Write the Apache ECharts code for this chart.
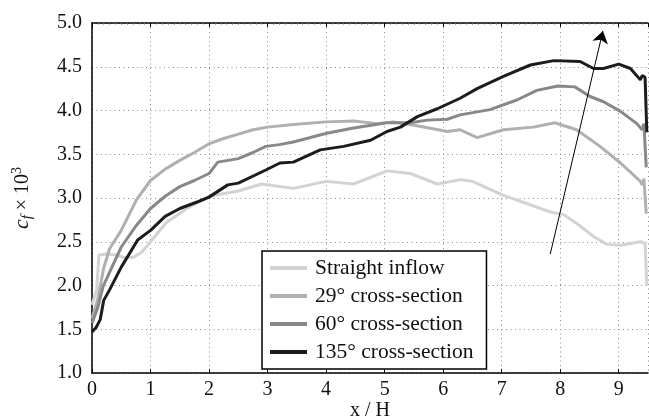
<!DOCTYPE html>
<html>
<head>
<meta charset="utf-8">
<script src="https://cdn.jsdelivr.net/npm/echarts@6/dist/echarts.min.js"></script>
<style>
  html, body { margin: 0; padding: 0; background: #fff; }
  #chart { width: 649px; height: 418px; }
</style>
</head>
<body>
<div id="chart"></div>
<script>
// x/H, cf*1e3 pairs
const straightInflow = [[0,1.78],[0.08,1.95],[0.12,2.35],[0.25,2.36],[0.4,2.35],[0.55,2.32],[0.7,2.32],[0.85,2.38],[1.0,2.5],[1.27,2.72],[1.62,2.88],[2.0,3.02],[2.5,3.08],[2.9,3.16],[3.44,3.11],[4.0,3.19],[4.47,3.16],[5.04,3.31],[5.44,3.28],[5.9,3.16],[6.3,3.21],[6.5,3.19],[7.03,3.03],[7.5,2.92],[7.83,2.84],[8.06,2.81],[8.3,2.7],[8.57,2.56],[8.8,2.47],[9.03,2.46],[9.37,2.5],[9.45,2.48],[9.48,2.0]];
const cross29 = [[0,1.62],[0.1,1.85],[0.2,2.2],[0.3,2.42],[0.5,2.63],[0.76,2.98],[1.0,3.2],[1.25,3.33],[1.5,3.43],[1.75,3.52],[2.0,3.62],[2.25,3.68],[2.5,3.73],[2.75,3.78],[3.0,3.81],[3.44,3.84],[4.0,3.87],[4.47,3.88],[4.87,3.85],[5.15,3.87],[5.6,3.82],[6.07,3.76],[6.29,3.78],[6.58,3.69],[7.03,3.78],[7.54,3.81],[7.91,3.86],[8.28,3.78],[8.68,3.59],[9.03,3.4],[9.37,3.19],[9.4,3.15],[9.43,3.22],[9.47,2.82]];
const cross60 = [[0,1.57],[0.1,1.75],[0.19,1.99],[0.3,2.15],[0.5,2.44],[0.75,2.68],[1.0,2.88],[1.25,3.02],[1.5,3.13],[1.75,3.2],[2.0,3.28],[2.15,3.41],[2.5,3.45],[2.75,3.52],[2.97,3.59],[3.2,3.61],[3.44,3.64],[4.01,3.74],[4.47,3.8],[5.04,3.86],[5.44,3.86],[5.73,3.89],[6.07,3.9],[6.29,3.95],[6.8,4.01],[7.26,4.12],[7.6,4.23],[7.96,4.28],[8.25,4.27],[8.51,4.16],[8.74,4.1],[9.03,3.99],[9.31,3.85],[9.4,3.78],[9.43,3.85],[9.47,3.35]];
const cross135 = [[0,1.47],[0.07,1.52],[0.14,1.61],[0.2,1.83],[0.3,1.95],[0.5,2.21],[0.78,2.52],[1.0,2.63],[1.25,2.79],[1.5,2.88],[1.82,2.96],[2.0,3.01],[2.32,3.15],[2.5,3.17],[2.97,3.32],[3.21,3.4],[3.44,3.41],[3.9,3.55],[4.3,3.59],[4.76,3.66],[5.04,3.76],[5.27,3.81],[5.56,3.93],[5.9,4.02],[6.29,4.14],[6.58,4.25],[7.03,4.39],[7.49,4.52],[7.89,4.57],[8.34,4.56],[8.57,4.48],[8.74,4.48],[9.0,4.53],[9.2,4.48],[9.37,4.35],[9.4,4.4],[9.45,4.38],[9.48,3.75]];

const seriesNames = ['Straight inflow', '29° cross-section', '60° cross-section', '135° cross-section'];
const seriesColors = ['#d3d3d3', '#b0b0b0', '#888888', '#1c1c1c'];

// arrow (annotation) from -> to
const arrowStart = [7.83, 2.36];
const arrowEnd = [8.73, 4.91];

const FONT = 'Liberation Serif';

const myChart = echarts.init(document.getElementById('chart'));

const lineSeries = [straightInflow, cross29, cross60, cross135].map((d, i) => ({
    name: seriesNames[i],
    type: 'line',
    data: d,
    showSymbol: false,
    symbol: 'none',
    color: seriesColors[i],
    lineStyle: {color: seriesColors[i], width: 3},
    z: 3 + i,
}));

const option = {
    animation: false,
    textStyle: {fontFamily: FONT},
    grid: {left: 92, right: 1, top: 23, bottom: 45, outerBoundsMode: 'none', containLabel: false},
    legend: {
        orient: 'vertical',
        left: 262,
        top: 251,
        data: seriesNames,
        icon: 'rect',
        itemWidth: 37,
        itemHeight: 4,
        itemGap: 6,
        padding: [6, 13, 6, 8],
        backgroundColor: '#fff',
        borderColor: '#000',
        borderWidth: 1.5,
        borderRadius: 0,
        textStyle: {fontFamily: FONT, fontSize: 21.5, color: '#111', padding: [0, 0, 0, 3]},
    },
    xAxis: [
        {
            type: 'value',
            min: 0,
            max: 9.5,
            interval: 1,
            name: 'x / H',
            nameLocation: 'middle',
            nameGap: 28,
            nameMoveOverlap: false,
            nameTextStyle: {fontFamily: FONT, fontSize: 20, color: '#111'},
            axisLine: {show: true, onZero: false, lineStyle: {color: '#000', width: 1.5}},
            axisTick: {show: true, inside: true, length: 4, lineStyle: {color: '#000'}},
            axisLabel: {fontFamily: FONT, fontSize: 20, color: '#111', margin: 7, showMaxLabel: false},
            splitLine: {show: true, lineStyle: {color: '#8a8a8a', width: 1, type: [1, 3.5]}},
        },
        {
            type: 'value',
            position: 'top',
            min: 0,
            max: 9.5,
            interval: 1,
            axisLine: {show: true, onZero: false, lineStyle: {color: '#000', width: 1.5}},
            axisTick: {show: true, inside: true, length: 4, lineStyle: {color: '#000'}},
            minorTick: {show: true, splitNumber: 10, length: 1.5, lineStyle: {color: '#666'}},
            axisLabel: {show: false},
            splitLine: {show: false},
        },
    ],
    yAxis: {
        type: 'value',
        min: 1,
        max: 5,
        interval: 0.5,
        name: '{i|c}{sub|f}{n| × 10}{sup|3}',
        nameLocation: 'middle',
        nameGap: 57,
        nameMoveOverlap: false,
        nameTextStyle: {
            fontFamily: FONT,
            fontSize: 20,
            color: '#111',
            rich: {
                i: {fontFamily: FONT, fontStyle: 'italic', fontSize: 22, color: '#111'},
                sub: {fontFamily: FONT, fontStyle: 'italic', fontSize: 15, color: '#111', padding: [9, 0, 0, 0]},
                n: {fontFamily: FONT, fontSize: 20, color: '#111'},
                sup: {fontFamily: FONT, fontSize: 14, color: '#111', padding: [0, 0, 11, 0]},
            },
        },
        axisLine: {show: true, lineStyle: {color: '#000', width: 1.5}},
        axisTick: {show: false},
        axisLabel: {
            fontFamily: FONT,
            fontSize: 20,
            color: '#111',
            margin: 10,
            formatter: (v) => v.toFixed(1),
        },
        splitLine: {show: true, lineStyle: {color: '#8a8a8a', width: 1, type: [1, 3.5]}},
    },
    series: [
        ...lineSeries,
        {
            type: 'lines',
            coordinateSystem: 'cartesian2d',
            data: [{coords: [arrowStart, arrowEnd]}],
            symbol: ['none', 'arrow'],
            symbolSize: [8, 12],
            lineStyle: {color: '#000', width: 1, opacity: 1},
            z: 10,
            silent: true,
        },
    ],
};

myChart.setOption(option);
</script>
</body>
</html>
